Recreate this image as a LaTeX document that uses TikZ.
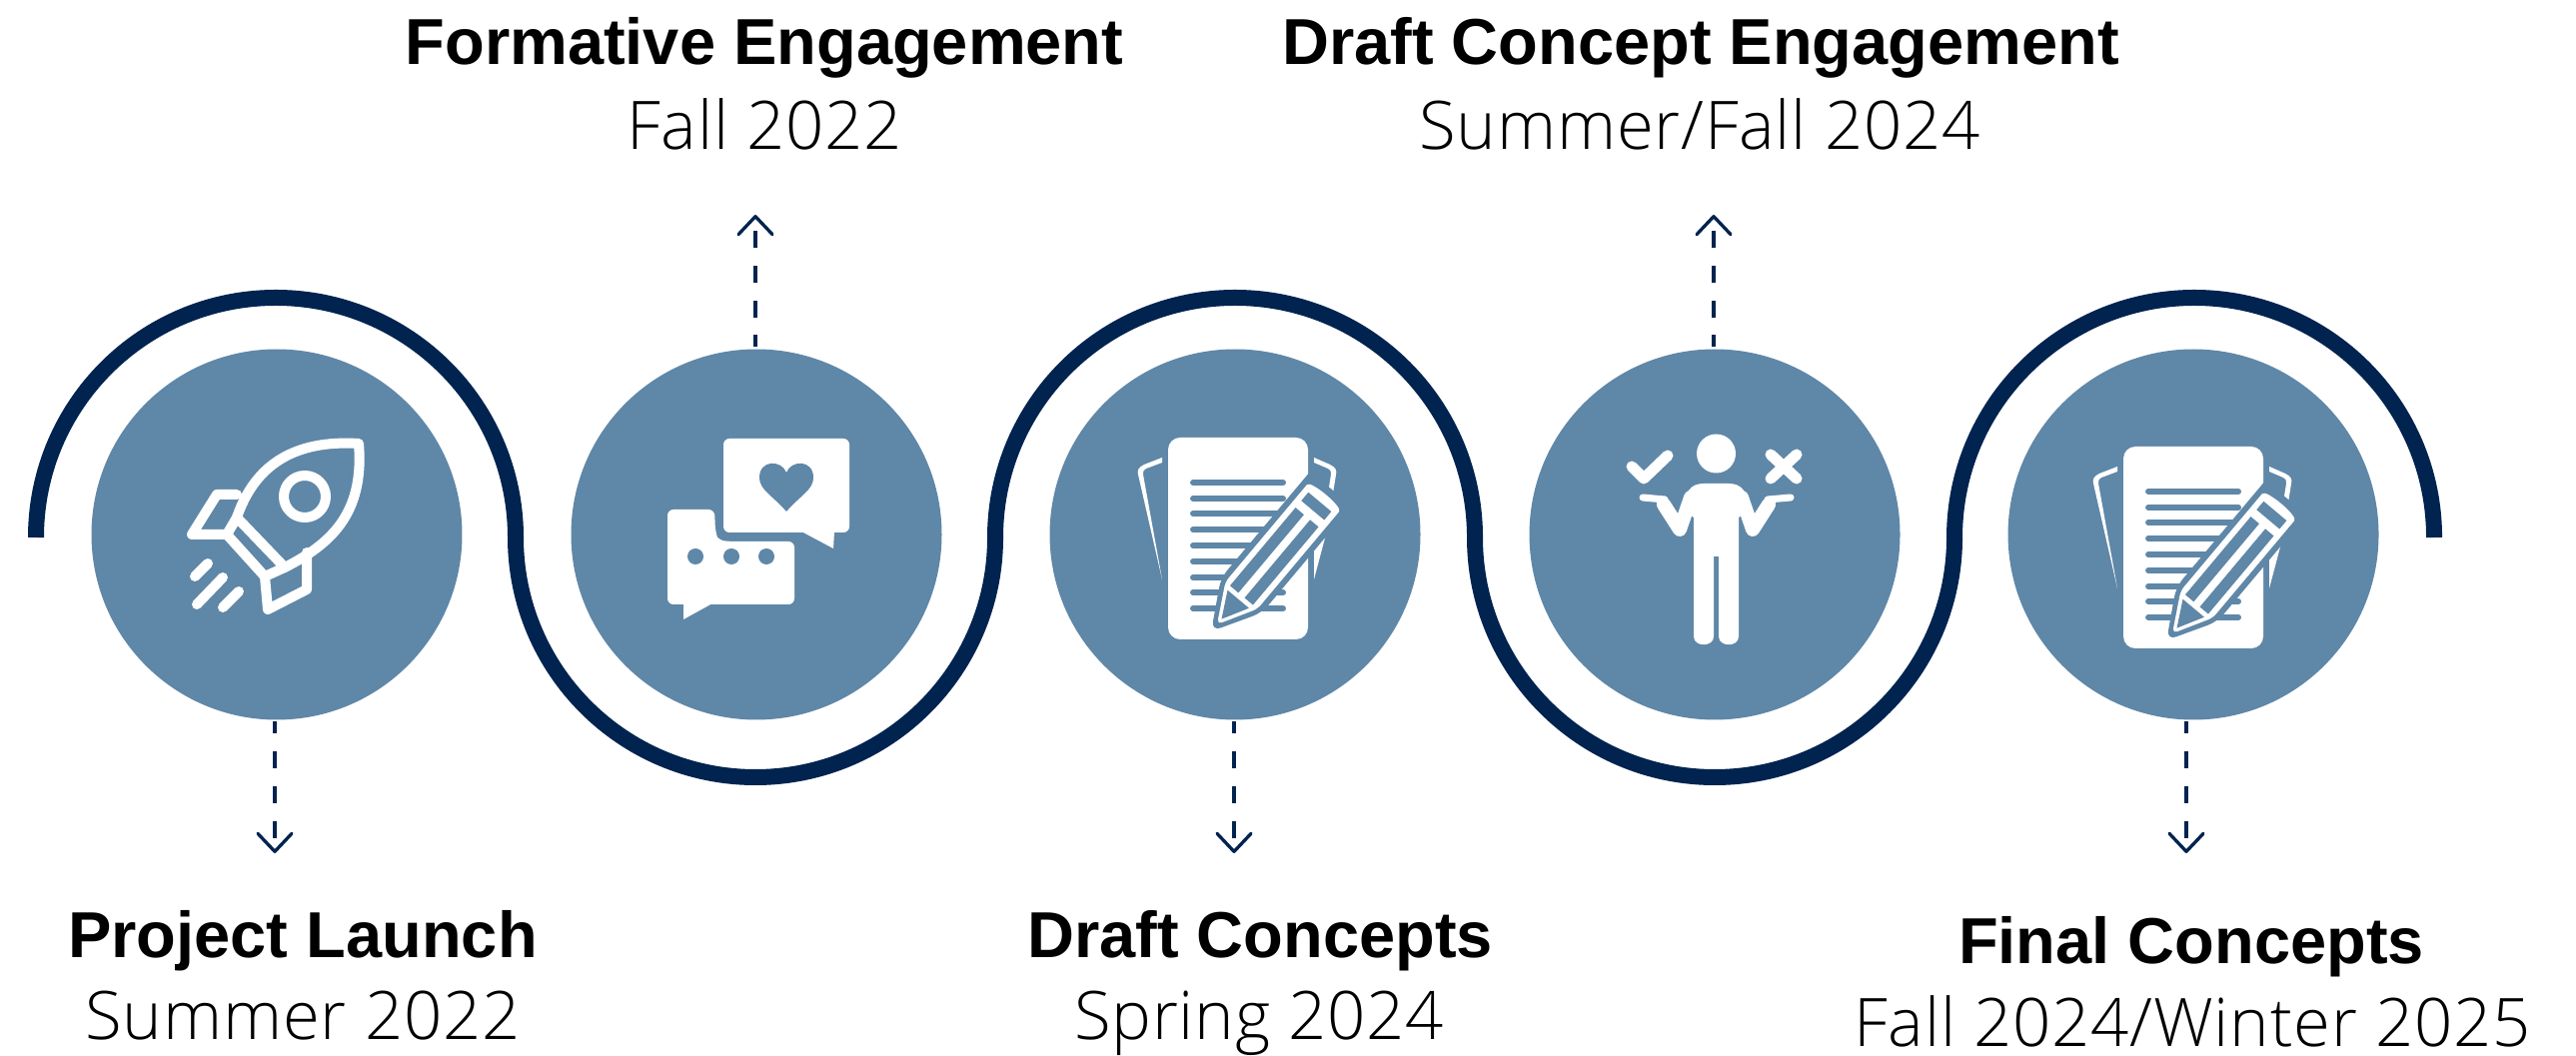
\documentclass[tikz,border=0pt]{standalone}
\usepackage{fontspec}
\setmainfont{Liberation Sans}
\newfontfamily\subfont[LetterSpace=1.2]{Open Sans Light}
\usetikzlibrary{arrows.meta}
\definecolor{navy}{HTML}{00234F}
\definecolor{steel}{HTML}{5F87A8}
\tikzset{
  x=0.1pt,y=-0.1pt,
  disc/.style={circle,fill=steel,minimum size=37.1pt,inner sep=0pt},
  wave/.style={draw=navy,line width=1.6pt},
  lead/.style={draw=navy,line width=0.33pt,dash pattern=on 1.75pt off 1.75pt,dash phase=0.55pt,-{Straight Barb[length=1.8pt,width=3.4pt,line width=.33pt,round]}},
  head/.style={font=\fontsize{6.5}{8}\selectfont\bfseries,text=black,inner sep=0pt,anchor=base},
  sub/.style={font=\fontsize{6.7}{8}\selectfont\subfont,text=black,inner sep=0pt,anchor=base},
  ic/.style={fill=white,draw=none},
  icl/.style={draw=white,line width=1pt,line cap=round,line join=round},
  holef/.style={fill=steel,draw=none}
}
\newcommand{\docicon}[2]{%
\begin{scope}[shift={(#1,#2)}]
 \fill[ic,rounded corners=1.2pt] (-68,-97) rectangle (72,105);
 \fill[white] (-74,-77) -- (-92,-70) .. controls (-98,-67) and (-99,-64) .. (-98,-60) -- (-74,45) -- (-93,-60) .. controls (-93,-64) and (-92,-65) .. (-90,-66) -- (-74,-72) -- cycle;
 \fill[white] (78,-77) -- (94,-70) .. controls (100,-67) and (101,-64) .. (100,-60) -- (96,-35) -- (91,-35) -- (95,-60) .. controls (95,-64) and (94,-65) .. (92,-66) -- (78,-72) -- cycle;
 \fill[white] (92,-8) -- (78,45) -- (78,0) -- cycle;
 \foreach \yy in {-52,-36,-21,-5,11,27,43,58,74}{\draw[steel,line width=.6pt,line cap=round] (-43,\yy) -- (47,\yy);}
 \begin{scope}[shift={(-19,90)},rotate=50]
  \fill[steel,rounded corners=1pt] (-9,0) -- (38,27) -- (165,27) .. controls (178,27) and (178,-27) .. (165,-27) -- (38,-27) -- cycle;
  \fill[white,rounded corners=.5pt] (0,0) -- (38,21) -- (160,21) .. controls (171,21) and (171,-21) .. (160,-21) -- (38,-21) -- cycle;
  \fill[steel] (38,-15) rectangle (140,-4);
  \fill[steel] (38,4) rectangle (140,15);
  \fill[steel] (149,-15) rectangle (160,15);
  \fill[steel] (7,0) -- (33,-14) -- (33,14) -- cycle;
 \end{scope}
\end{scope}}
\begin{document}
\begin{tikzpicture}
\useasboundingbox (0,0) rectangle (2578,1057);
\draw[wave] (36,538) arc[start angle=180,end angle=360,radius=240] coordinate (w1)
  arc[start angle=180,end angle=0,radius=240] coordinate (w2)
  arc[start angle=180,end angle=360,radius=240] coordinate (w3)
  arc[start angle=180,end angle=0,radius=240] coordinate (w4)
  arc[start angle=180,end angle=360,radius=240] coordinate (w5);

\node[disc] (c1) at (277,535) {};
\node[disc] (c2) at (757,535) {};
\node[disc] (c3) at (1236,535) {};
\node[disc] (c4) at (1716,535) {};
\node[disc] (c5) at (2195,535) {};

\coordinate (a1) at (275,854);
\coordinate (a2) at (756,215);
\coordinate (a3) at (1235,854);
\coordinate (a4) at (1715,215);
\coordinate (a5) at (2188,854);
\draw[lead] (a1 |- c1.south) -- (a1);
\draw[lead] (a2 |- c2.north) -- (a2);
\draw[lead] (a3 |- c3.south) -- (a3);
\draw[lead] (a4 |- c4.north) -- (a4);
\draw[lead] (a5 |- c5.south) -- (a5);

% rocket
\begin{scope}[shift={(80,340)}]
 \draw[icl] (279,104) .. controls (215,100) and (175,125) .. (157,178) -- (205,228) .. controls (250,205) and (285,175) .. (279,104) -- cycle;
 \draw[icl] (157,178) -- (147,195) -- (185,237) -- (205,228);
 \draw[icl] (157,155) -- (137,155) -- (112,195) -- (147,195);
 \draw[icl] (227,213) -- (227,250) -- (188,270) -- (185,237);
 \draw[icl] (225,157) circle[radius=21];
 \draw[icl] (115,237) -- (128,224);
 \draw[icl] (117,265) -- (143,238);
 \draw[icl] (143,268) -- (159,252);
\end{scope}

% chat
\begin{scope}[shift={(560,340)}]
 \fill[ic,rounded corners=.6pt] (164,99) rectangle (290,193);
 \fill[ic] (242,192) -- (274,209) -- (275,192) -- cycle;
 \fill[holef] (227,172) .. controls (212,155) and (200,150) .. (200,138) .. controls (200,120) and (222,120) .. (227,133) .. controls (232,120) and (254,120) .. (254,138) .. controls (254,150) and (242,155) .. (227,172) -- cycle;
 \fill[ic,rounded corners=.6pt] (108,170) -- (155,170) -- (156,192) .. controls (158,198) and (162,201) .. (170,202) -- (235,202) -- (235,265) -- (108,265) -- cycle;
 \fill[ic] (124,264) -- (124,280) -- (153,264) -- cycle;
 \fill[holef] (136,217) circle[radius=8] (172,217) circle[radius=8] (207,217) circle[radius=8];
\end{scope}

\docicon{1237}{535}
\docicon{2193}{544}

% person
\begin{scope}[shift={(1520,340)}]
 \fill[ic] (197.5,114) circle[radius=19.5];
 \fill[ic] (165,170) .. controls (166,152) and (172,144) .. (185,144) -- (210,144) .. controls (223,144) and (229,152) .. (230,170) -- (220,178) -- (220,297) .. controls (220,308) and (200,308) .. (200,297) -- (200,217) -- (195,217) -- (195,297) .. controls (195,308) and (175,308) .. (175,297) -- (175,178) -- cycle;
 \draw[white,line width=1.4pt,line cap=round,line join=round] (172,158) -- (161,190) -- (145,165);
 \draw[white,line width=1.4pt,line cap=round,line join=round] (223,158) -- (234,190) -- (250,165);
 \draw[white,line width=.7pt,line cap=round] (124,158) -- (146,160);
 \draw[white,line width=.7pt,line cap=round] (272,158) -- (249,160);
 \draw[white,line width=1.1pt,line cap=round,line join=round] (113,127) -- (125,139) -- (149,116);
 \draw[white,line width=1.1pt,line cap=round] (252,115) -- (278,139) (278,115) -- (252,139);
\end{scope}

\node[head] (t2) at (765,65) {Formative Engagement};
\node[sub] (s2) at (765,150) {Fall 2022};
\node[head] (t4) at (1702,65) {Draft Concept Engagement};
\node[sub] (s4) at (1701,150) {Summer/Fall 2024};
\node[head] (t1) at (303,958) {Project Launch};
\node[sub] (s1) at (303,1040) {Summer 2022};
\node[head] (t3) at (1261,958) {Draft Concepts};
\node[sub] (s3) at (1260,1040) {Spring 2024};
\node[head] (t5) at (2193,964) {Final Concepts};
\node[sub] (s5) at (2194,1047) {Fall 2024/Winter 2025};
\end{tikzpicture}
\end{document}
